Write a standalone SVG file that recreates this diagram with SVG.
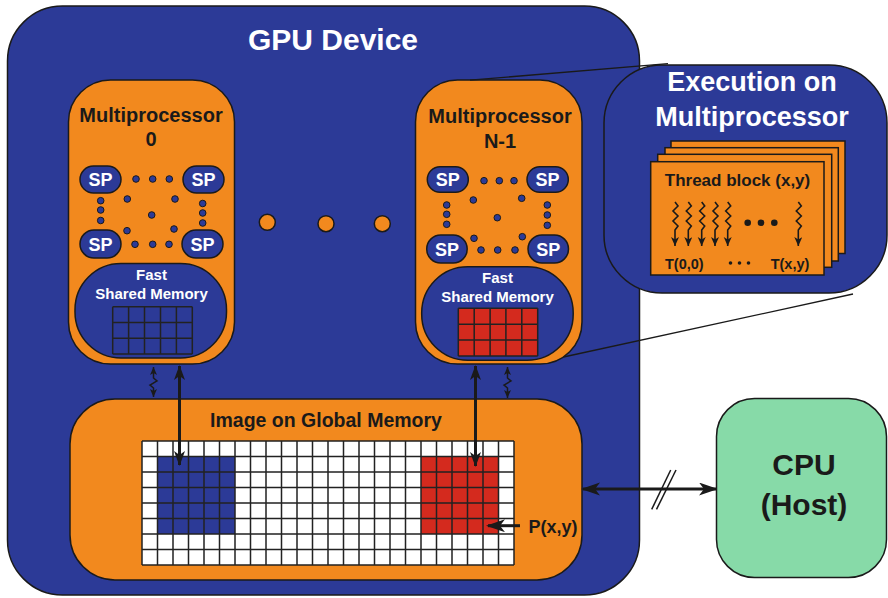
<svg xmlns="http://www.w3.org/2000/svg" width="888" height="598" viewBox="0 0 888 598">
<style>
.blue{fill:#2c3a97;stroke:#1a1a1a;stroke-width:1.5}
.org{fill:#f2891e;stroke:#1a1a1a;stroke-width:1.5}
.dot{fill:#2c3a97;stroke:#1a1a1a;stroke-width:1}
.t{font-family:"Liberation Sans",Arial,sans-serif;font-weight:bold;text-anchor:middle}
.w{fill:#ffffff}
.k{fill:#1a1a1a}
.ln{stroke:#1a1a1a;fill:none}
.gl{stroke:#222;stroke-width:1.5;fill:none}
</style>
<defs>
<marker id="ah" markerUnits="userSpaceOnUse" markerWidth="20" markerHeight="14" refX="17" refY="6.5" orient="auto-start-reverse"><path d="M0,0 L19,6.5 L0,13 L5,6.5 z" fill="#1a1a1a"/></marker>
<marker id="av" markerUnits="userSpaceOnUse" markerWidth="16" markerHeight="12" refX="14" refY="5.5" orient="auto-start-reverse"><path d="M0,0 L15,5.5 L0,11 L4,5.5 z" fill="#1a1a1a"/></marker>
<marker id="as" markerUnits="userSpaceOnUse" markerWidth="9" markerHeight="8" refX="8" refY="3.5" orient="auto-start-reverse"><path d="M0,0 L8,3.5 L0,7 L2,3.5 z" fill="#1a1a1a"/></marker>
<marker id="at" markerUnits="userSpaceOnUse" markerWidth="10" markerHeight="9" refX="9" refY="4" orient="auto"><path d="M0,0 L9,4 L0,8 L2.5,4 z" fill="#1a1a1a"/></marker>
</defs>

<g id="gpu">
<rect class="blue" x="7.5" y="6" width="632" height="589" rx="55"/>
<text class="t w" x="333" y="50" font-size="30">GPU Device</text>
</g>

<g id="mp0">
<rect class="org" x="68.5" y="80" width="166" height="284" rx="42"/>
<text class="t k" x="151" y="121.5" font-size="20">Multiprocessor</text>
<text class="t k" x="151" y="146" font-size="20">0</text>
<rect class="blue" x="80" y="166" width="41" height="27" rx="13.5"/>
<rect class="blue" x="183" y="166" width="41" height="27" rx="13.5"/>
<rect class="blue" x="80" y="230" width="41" height="28" rx="14"/>
<rect class="blue" x="182" y="230" width="41" height="28" rx="14"/>
<text class="t w" x="100.5" y="186" font-size="18">SP</text>
<text class="t w" x="203.5" y="186" font-size="18">SP</text>
<text class="t w" x="100.5" y="250.5" font-size="18">SP</text>
<text class="t w" x="202.5" y="250.5" font-size="18">SP</text>
<circle class="dot" cx="136" cy="179" r="3.3"/><circle class="dot" cx="152.7" cy="179" r="3.3"/><circle class="dot" cx="169.3" cy="179" r="3.3"/>
<circle class="dot" cx="135" cy="244.3" r="3.3"/><circle class="dot" cx="152.7" cy="244.3" r="3.3"/><circle class="dot" cx="169" cy="244.3" r="3.3"/>
<circle class="dot" cx="100.7" cy="200.7" r="3.3"/><circle class="dot" cx="100.7" cy="210" r="3.3"/><circle class="dot" cx="100.7" cy="220.5" r="3.3"/>
<circle class="dot" cx="202.7" cy="203.5" r="3.3"/><circle class="dot" cx="202.7" cy="213" r="3.3"/><circle class="dot" cx="202.7" cy="223" r="3.3"/>
<circle class="dot" cx="127.3" cy="199" r="3.3"/><circle class="dot" cx="175" cy="199" r="3.3"/><circle class="dot" cx="151.7" cy="215" r="3.3"/>
<circle class="dot" cx="127" cy="230.7" r="3.3"/><circle class="dot" cx="174" cy="229" r="3.3"/>
<rect class="blue" x="75" y="263.5" width="151.5" height="94.5" rx="46"/>
<text class="t w" x="151.5" y="279.5" font-size="15">Fast</text>
<text class="t w" x="151.5" y="298.5" font-size="15">Shared Memory</text>
<rect x="112.7" y="306.7" width="79.6" height="47.4" fill="#2c3a97"/>
<path class="gl" d="M112.7,306.7 H192.3 M112.7,322.5 H192.3 M112.7,338.3 H192.3 M112.7,354.1 H192.3 M112.7,306.7 V354.1 M128.6,306.7 V354.1 M144.5,306.7 V354.1 M160.5,306.7 V354.1 M176.4,306.7 V354.1 M192.3,306.7 V354.1"/>
</g>

<g id="ellipsis">
<circle class="org" cx="267.3" cy="222.3" r="8"/>
<circle class="org" cx="326" cy="223.7" r="8"/>
<circle class="org" cx="382.3" cy="223.7" r="8"/>
</g>

<g id="mpn1">
<rect class="org" x="415.5" y="80" width="166.5" height="284" rx="42"/>
<text class="t k" x="500" y="122.5" font-size="20">Multiprocessor</text>
<text class="t k" x="500" y="147.5" font-size="20">N-1</text>
<rect class="blue" x="427.3" y="166.7" width="41" height="25.5" rx="12.7"/>
<rect class="blue" x="527" y="166.7" width="41.3" height="25.5" rx="12.7"/>
<rect class="blue" x="426.7" y="235" width="40.5" height="28" rx="14"/>
<rect class="blue" x="528" y="235" width="40.5" height="28" rx="14"/>
<text class="t w" x="447.8" y="186" font-size="18">SP</text>
<text class="t w" x="547.6" y="186" font-size="18">SP</text>
<text class="t w" x="447" y="255.5" font-size="18">SP</text>
<text class="t w" x="548.2" y="255.5" font-size="18">SP</text>
<circle class="dot" cx="484" cy="180.7" r="3.3"/><circle class="dot" cx="499.3" cy="180.7" r="3.3"/><circle class="dot" cx="514" cy="180.7" r="3.3"/>
<circle class="dot" cx="481" cy="250" r="3.3"/><circle class="dot" cx="497.7" cy="250" r="3.3"/><circle class="dot" cx="515" cy="250" r="3.3"/>
<circle class="dot" cx="446.7" cy="205" r="3.3"/><circle class="dot" cx="446.7" cy="214.3" r="3.3"/><circle class="dot" cx="446.7" cy="224.3" r="3.3"/>
<circle class="dot" cx="547.3" cy="205" r="3.3"/><circle class="dot" cx="547.3" cy="215" r="3.3"/><circle class="dot" cx="547.3" cy="225.3" r="3.3"/>
<circle class="dot" cx="473.3" cy="200" r="3.3"/><circle class="dot" cx="521.7" cy="198.3" r="3.3"/><circle class="dot" cx="497.3" cy="217.7" r="3.3"/>
<circle class="dot" cx="474" cy="238.3" r="3.3"/><circle class="dot" cx="522.3" cy="236.7" r="3.3"/>
<rect class="blue" x="421.7" y="266.7" width="151.5" height="93.5" rx="46"/>
<text class="t w" x="497.5" y="282.5" font-size="15">Fast</text>
<text class="t w" x="497.5" y="302" font-size="15">Shared Memory</text>
<rect x="458.3" y="308.3" width="79.4" height="47.7" fill="#d42a1e"/>
<path class="gl" d="M458.3,308.3 H537.7 M458.3,324.2 H537.7 M458.3,340.1 H537.7 M458.3,356 H537.7 M458.3,308.3 V356 M474.2,308.3 V356 M490.1,308.3 V356 M505.9,308.3 V356 M521.8,308.3 V356 M537.7,308.3 V356"/>
</g>

<g id="global">
<rect class="org" x="70" y="399" width="512" height="181" rx="45"/>
<text class="t k" x="326" y="427" font-size="19.5">Image on Global Memory</text>
<rect x="142" y="441" width="372" height="124" fill="#ffffff"/>
<rect x="157.5" y="456.5" width="77.5" height="77.5" fill="#2c3a97"/>
<rect x="421" y="456.5" width="77.5" height="77.5" fill="#d42a1e"/>
<path class="gl" d="M142,441 H514 M142,456.5 H514 M142,472 H514 M142,487.5 H514 M142,503 H514 M142,518.5 H514 M142,534 H514 M142,549.5 H514 M142,565 H514 M142,441 V565 M157.5,441 V565 M173,441 V565 M188.5,441 V565 M204,441 V565 M219.5,441 V565 M235,441 V565 M250.5,441 V565 M266,441 V565 M281.5,441 V565 M297,441 V565 M312.5,441 V565 M328,441 V565 M343.5,441 V565 M359,441 V565 M374.5,441 V565 M390,441 V565 M405.5,441 V565 M421,441 V565 M436.5,441 V565 M452,441 V565 M467.5,441 V565 M483,441 V565 M498.5,441 V565 M514,441 V565"/>
<text class="t k" x="553" y="532.5" font-size="18">P(x,y)</text>
</g>

<g id="connectors">
<line class="ln" stroke-width="1.3" x1="470" y1="80.2" x2="668" y2="63.6"/>
<line class="ln" stroke-width="1.3" x1="563.5" y1="357" x2="853" y2="294"/>
<line class="ln" stroke-width="3" x1="179.5" y1="366" x2="179.5" y2="465" marker-start="url(#av)" marker-end="url(#av)"/>
<line class="ln" stroke-width="3" x1="475.5" y1="366" x2="475.5" y2="466" marker-start="url(#av)" marker-end="url(#av)"/>
<path class="ln" stroke-width="1.5" d="M153.5,367 V378 L157,381 L150,385 L153.5,388 V397" marker-start="url(#as)" marker-end="url(#as)"/>
<path class="ln" stroke-width="1.5" d="M507.5,367 V378 L511,381 L504,385 L507.5,388 V398" marker-start="url(#as)" marker-end="url(#as)"/>
<line class="ln" stroke-width="3" x1="583" y1="489" x2="716" y2="489" marker-start="url(#ah)" marker-end="url(#ah)"/>
<line class="ln" stroke-width="1.5" x1="651.7" y1="509.3" x2="670.7" y2="470"/>
<line class="ln" stroke-width="1.5" x1="656.5" y1="509.3" x2="676" y2="470"/>
<line class="ln" stroke-width="3" x1="520" y1="525.7" x2="488" y2="525.7" marker-end="url(#ah)"/>
</g>

<g id="exec">
<rect class="blue" x="604" y="65" width="283" height="228" rx="58"/>
<text class="t w" x="752" y="91" font-size="27">Execution on</text>
<text class="t w" x="752" y="126" font-size="27">Multiprocessor</text>
<rect class="org" x="671" y="141" width="174" height="112.5"/>
<rect class="org" x="665" y="147.7" width="173.3" height="113.3"/>
<rect class="org" x="657.7" y="154.3" width="174" height="113"/>
<rect class="org" x="650.7" y="161.7" width="173.3" height="113.3"/>
<text class="t k" x="737.5" y="186" font-size="17">Thread block (x,y)</text>
<g class="ln" stroke-width="1.6">
<path d="M675,202 l3,4 l-5,5 l5,5 l-5,5 l5,5 l-3,4 v16" marker-end="url(#at)"/>
<path d="M688.3,202 l3,4 l-5,5 l5,5 l-5,5 l5,5 l-3,4 v16" marker-end="url(#at)"/>
<path d="M701.7,202 l3,4 l-5,5 l5,5 l-5,5 l5,5 l-3,4 v16" marker-end="url(#at)"/>
<path d="M715,202 l3,4 l-5,5 l5,5 l-5,5 l5,5 l-3,4 v16" marker-end="url(#at)"/>
<path d="M727.7,202 l3,4 l-5,5 l5,5 l-5,5 l5,5 l-3,4 v16" marker-end="url(#at)"/>
<path d="M798.3,202 l3,4 l-5,5 l5,5 l-5,5 l5,5 l-3,4 v16" marker-end="url(#at)"/>
</g>
<circle cx="747.7" cy="222.7" r="3.3" fill="#1a1a1a"/><circle cx="761" cy="222.7" r="3.3" fill="#1a1a1a"/><circle cx="774.3" cy="222.7" r="3.3" fill="#1a1a1a"/>
<text class="t k" x="684.3" y="268.5" font-size="14.5">T(0,0)</text>
<text class="t k" x="790" y="268.5" font-size="14.5">T(x,y)</text>
<circle cx="730.5" cy="263" r="1.8" fill="#1a1a1a"/><circle cx="739.5" cy="263" r="1.8" fill="#1a1a1a"/><circle cx="748.5" cy="263" r="1.8" fill="#1a1a1a"/>
</g>

<g id="cpu">
<rect x="716.5" y="398.5" width="170" height="179" rx="38" fill="#87daa8" stroke="#1a1a1a" stroke-width="1.5"/>
<text class="t k" x="804" y="475" font-size="30">CPU</text>
<text class="t k" x="804" y="515" font-size="30">(Host)</text>
</g>
</svg>
